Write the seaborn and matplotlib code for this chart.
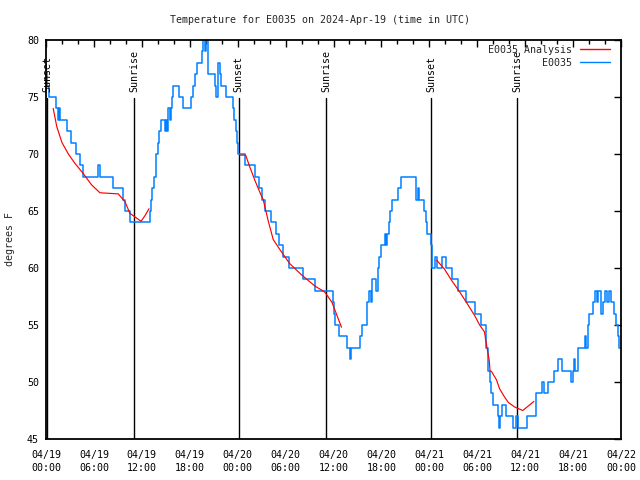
import numpy as np
import pandas as pd
import matplotlib
matplotlib.use("Agg")
import matplotlib.pyplot as plt
import matplotlib.dates as mdates
import seaborn as sns

# ---------------- data (hours since 2024-04-19 00:00 UTC) ----------------
blue_hours = [0.0, 0.15, 0.35, 1.3, 1.45, 1.6, 1.8, 2.6, 3.1, 3.8, 4.2, 4.6, 6.5, 6.7, 8.4, 9.7, 9.9, 10.5,
              13.0, 13.15, 13.3, 13.5, 13.8, 14.0, 14.2, 14.45, 14.85, 15.0, 15.1, 15.3, 15.55, 15.65, 15.8,
              15.95, 16.6, 17.2, 18.2, 18.4, 18.6, 18.85, 19.5, 19.65, 19.85, 20.0, 20.3, 21.15, 21.3, 21.55,
              21.75, 21.9, 22.6, 23.4, 23.6, 23.75, 23.9, 24.05, 24.9, 26.2, 26.7, 27.1, 27.4, 28.2, 28.85,
              29.2, 29.65, 30.45, 32.2, 33.7, 35.9, 36.0, 36.15, 36.65, 37.75, 38.05, 38.25, 39.35, 39.6,
              40.15, 40.25, 40.5, 40.7, 40.85, 41.35, 41.55, 41.75, 41.95, 42.4, 42.55, 42.75, 42.95, 43.1,
              43.3, 44.1, 44.45, 46.35, 46.55, 46.75, 47.35, 47.55, 47.75, 48.15, 48.3, 48.75, 48.95, 49.55,
              50.05, 50.9, 51.6, 52.65, 53.7, 54.45, 55.15, 55.3, 55.6, 55.75, 55.95, 56.55, 56.7, 56.85,
              57.1, 57.55, 58.45, 58.85, 59.1, 60.2, 61.35, 62.15, 62.4, 62.85, 63.65, 64.05, 64.65, 65.75,
              65.95, 66.15, 66.3, 66.6, 67.45, 67.6, 67.85, 68.05, 68.45, 68.75, 68.95, 69.15, 69.5, 69.7,
              70.05, 70.2, 70.45, 70.8, 71.15, 71.35, 71.6, 71.8, 72.0]
blue_temps = [77, 76, 75, 74, 73, 74, 73, 72, 71, 70, 69, 68, 69, 68, 67, 66, 65, 64,
              65, 66, 67, 68, 70, 71, 72, 73, 72, 73, 72, 74, 73, 74, 75,
              76, 75, 74, 75, 76, 77, 78, 79, 80, 79, 80, 77, 76, 75, 78,
              77, 76, 75, 74, 73, 72, 71, 70, 69, 68, 67, 66, 65, 64, 63,
              62, 61, 60, 59, 58, 57, 56, 55, 54, 53, 52, 53, 54, 55,
              56, 57, 58, 57, 59, 58, 60, 61, 62, 63, 62, 63, 64, 65,
              66, 67, 68, 66, 67, 66, 65, 64, 63, 62, 60, 61, 60, 61,
              60, 59, 58, 57, 56, 55, 53, 51, 50, 49, 48, 47, 46, 47,
              48, 47, 46, 47, 46, 47, 49, 50, 49, 50, 51, 52, 51, 50,
              51, 52, 51, 53, 54, 53, 55, 56, 57, 58, 57, 58, 56, 57,
              58, 57, 58, 57, 56, 55, 54, 53, 53]

red_hours = [0.9, 1.35, 2.0, 2.8, 3.6, 4.65, 5.7, 6.75, 9.05, 9.9, 10.5, 10.9, 11.9, 12.4, 12.9,
             24.3, 25.0, 25.5, 26.15, 26.8, 27.2, 27.8, 28.45, 29.3, 29.9, 30.5, 32.0, 33.7, 34.9, 35.8, 36.4, 37.0,
             48.9, 49.9, 50.8, 51.8, 52.9, 53.7, 54.3, 54.9, 55.2, 55.5, 55.6, 55.8, 56.4, 56.8, 57.4, 57.9,
             58.7, 59.7, 60.4, 61.1]
red_temps = [74.0, 72.4, 71.0, 70.0, 69.2, 68.3, 67.3, 66.6, 66.5, 65.8, 64.8, 64.6, 64.1, 64.6, 65.2,
             69.9, 69.9, 68.9, 67.7, 66.6, 66.0, 64.2, 62.5, 61.6, 61.0, 60.4, 59.4, 58.4, 57.9, 57.0, 55.9, 54.8,
             60.7, 59.9, 58.9, 57.9, 56.7, 55.8, 55.0, 54.4, 53.1, 51.9, 51.0, 50.9, 50.2, 49.4, 48.7, 48.2,
             47.8, 47.5, 47.9, 48.3]
red_segment = [1] * 15 + [2] * 17 + [3] * 20

sun_hours = [0.15, 11.05, 24.15, 35.1, 48.25, 59.0]
sun_labels = ["Sunset", "Sunrise", "Sunset", "Sunrise", "Sunset", "Sunrise"]

title = "Temperature for E0035 on 2024-Apr-19 (time in UTC)"
ylabel = "degrees F"
series_names = ["E0035 Analysis", "E0035"]
series_colors = ["#ff0000", "#0080ff"]

# ---------------- build frames ----------------
base = pd.Timestamp("2024-04-19 00:00")
blue_df = pd.DataFrame({"time": base + pd.to_timedelta(blue_hours, unit="h"), "temp": blue_temps})
red_df = pd.DataFrame({"time": base + pd.to_timedelta(red_hours, unit="h"), "temp": red_temps,
                       "seg": red_segment})

sns.set_theme(style="white")
plt.rcParams["font.family"] = ["DejaVu Sans Mono"]
plt.rcParams["font.size"] = 7.2

fig = plt.figure(figsize=(6.4, 4.8), dpi=100)
ax = fig.add_axes([46 / 640, 1 - 439 / 480, (621 - 46) / 640, (439 - 40) / 480])

sns.lineplot(data=blue_df, x="time", y="temp", ax=ax, color=series_colors[1], lw=1.1,
             drawstyle="steps-post", estimator=None, sort=False, legend=False)
sns.lineplot(data=red_df, x="time", y="temp", units="seg", estimator=None, ax=ax,
             color=series_colors[0], lw=0.85, sort=False, legend=False)

ax.set_xlim(base, base + pd.Timedelta(hours=72))
ax.set_ylim(45, 80)

# sunrise/sunset markers
for h, lab in zip(sun_hours, sun_labels):
    t = base + pd.Timedelta(hours=h)
    ax.plot([t, t], [45, 74.9], color="black", lw=1.0, zorder=1)
    ax.text(t, 75.45, lab, rotation=90, ha="center", va="bottom", fontsize=7.2, color="black", zorder=5)

# axes style (gnuplot-like)
for s in ax.spines.values():
    s.set_color("black")
    s.set_linewidth(1.3)
ax.xaxis.set_major_locator(mdates.HourLocator(byhour=[0, 6, 12, 18]))
ax.xaxis.set_minor_locator(mdates.HourLocator(interval=2))
ax.xaxis.set_major_formatter(mdates.DateFormatter("%m/%d\n%H:%M"))
ax.set_yticks([45, 50, 55, 60, 65, 70, 75, 80])
ax.tick_params(axis="both", which="both", direction="in", top=True, right=True, colors="black")
ax.tick_params(axis="both", which="major", length=5, width=1)
ax.tick_params(axis="x", which="minor", length=3, width=1)
ax.tick_params(axis="x", which="major", pad=8, labelsize=7.2)
ax.tick_params(axis="y", which="major", pad=5, labelsize=7.2)
for lab in ax.get_xticklabels():
    lab.set_linespacing(1.35)

ax.set_xlabel("")
ax.set_ylabel(ylabel, fontsize=7.2, labelpad=9)
fig.text(0.5, 1 - 20 / 480, title, ha="center", va="center", fontsize=7.2)

# legend (text first, sample line after)
handles = [plt.Line2D([], [], color=c, lw=1.0) for c in series_colors]
leg = ax.legend(handles, series_names, loc="upper right", frameon=False, markerfirst=False,
                fontsize=7.2, handlelength=3.0, handletextpad=0.8, borderaxespad=0.3,
                labelspacing=0.3, borderpad=0.2, bbox_to_anchor=(0.99, 1.0))

fig.savefig("out.png", dpi=100)
